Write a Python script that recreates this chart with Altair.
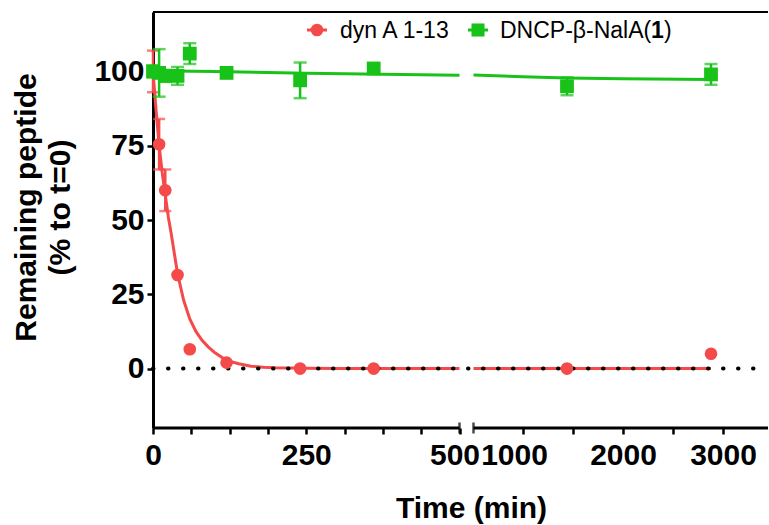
import altair as alt
import pandas as pd

# ---- data ----
red_t = [0, 10, 20, 40, 60, 120, 240, 360, 1440, 2880]
red_v = [100, 75.5, 60, 31.5, 6.5, 2, 0, 0, 0, 5]
red_err = [7, 8.5, 7, 0, 0, 0, 0, 0, 0, 0]

green_t = [0, 10, 20, 40, 60, 120, 240, 360, 1440, 2880]
green_v = [100, 99.5, 98.5, 98.5, 106, 99.5, 97, 101, 95, 99]
green_err = [2, 8, 2, 3, 3.5, 1, 6, 1, 3, 3.5]

# fitted curves; left / right of the axis break
red_fit_t = [0, 5, 10, 15, 20, 25, 30, 40, 50, 60, 70, 80, 90, 100, 120, 140, 160, 180, 200, 250, 300, 400, 500, 505, 2880]
red_fit_v = [100, 87, 75, 66, 58.5, 51, 45, 32, 23, 16.7, 12.5, 9.5, 7.3, 5.5, 2.7, 1.6, 0.8, 0.45, 0.25, 0.08, 0, 0, 0, 0, 0]
green_fit_t = [0, 100, 250, 500, 505, 1000, 1440, 2000, 2880]
green_fit_v = [100.2, 100, 99.4, 98.7, 98.8, 98.2, 97.8, 97.5, 97.3]

x_ticks = [0, 62.5, 125, 187.5, 250, 312.5, 375, 437.5, 500, 1000, 1500, 2000, 2500, 3000]
x_labels = [0, 250, 500, 1000, 2000, 3000]
y_ticks = [0, 25, 50, 75, 100]

BREAK_LO, BREAK_HI, X_MAX = 500, 505, 3450
Y_MIN, Y_MAX = -20, 120

RED = "#F44A4A"
GREEN = "#19C219"
FONT = "Liberation Sans"

W, H = 615, 416

# ---- frames ----
def seg(t):
    return "L" if t <= BREAK_LO else "R"

red_pts = pd.DataFrame({"t": red_t, "v": red_v, "e": red_err})
red_pts["lo"] = red_pts.v - red_pts.e
red_pts["hi"] = red_pts.v + red_pts.e
red_eb = red_pts[red_pts.e > 0]
green_pts = pd.DataFrame({"t": green_t, "v": green_v, "e": green_err})
green_pts["lo"] = green_pts.v - green_pts.e
green_pts["hi"] = green_pts.v + green_pts.e
green_eb = green_pts[green_pts.e > 0]

def caps(df):
    return pd.DataFrame({"t": list(df.t) * 2, "v": list(df.lo) + list(df.hi)})

red_fit = pd.DataFrame({"t": red_fit_t, "v": red_fit_v, "s": [seg(t) for t in red_fit_t]})
green_fit = pd.DataFrame({"t": green_fit_t, "v": green_fit_v, "s": [seg(t) for t in green_fit_t]})

xscale = alt.Scale(domain=[0, BREAK_LO, BREAK_HI, X_MAX], range=[0, 306.5, 320.5, W], nice=False, zero=False)
yscale = alt.Scale(domain=[Y_MIN, Y_MAX], nice=False, zero=False)

label_list = "[" + ",".join(str(v) for v in x_labels) + "]"
xaxis = alt.Axis(
    values=x_ticks, format="d",
    labelExpr=f"indexof({label_list}, datum.value) >= 0 ? datum.label : ''",
    domain=False, grid=False, tickSize=6, tickWidth=2.5, tickColor="black",
    labelFont=FONT, labelFontSize=30, labelFontWeight="bold", labelColor="black",
    labelPadding=6, labelOverlap=False, labelFlush=False,
    labelOffset={"condition": [{"test": "datum.value == 1000", "value": -9},
                               {"test": "datum.value == 500", "value": -5}], "value": 0},
    title="Time (min)", titleFont=FONT, titleFontSize=30, titleFontWeight="bold", titleColor="black",
    titleX=318, titleY=89, titleBaseline="alphabetic", titleAlign="center",
)
yaxis = alt.Axis(
    values=y_ticks, grid=False, domain=True, domainWidth=3, domainColor="black",
    tickSize=6, tickWidth=2.5, tickColor="black",
    labelFont=FONT, labelFontSize=30, labelFontWeight="bold", labelColor="black", labelPadding=3,
    title=["Remaining peptide", "(% to t=0)"], titleFont=FONT, titleFontSize=30, titleFontWeight="bold",
    titleColor="black", titleX=-118, titleY=195, titleAlign="center", titleBaseline="alphabetic",
    titleLineHeight=34, titleAngle=270,
)

def X(f="t"):
    return alt.X(f"{f}:Q", scale=xscale, axis=xaxis)

def Y(f="v"):
    return alt.Y(f"{f}:Q", scale=yscale, axis=yaxis)

top = alt.Chart(pd.DataFrame({"t": [0], "t2": [X_MAX], "v": [Y_MAX]})).mark_rule(
    color="black", strokeWidth=2).encode(x=X(), x2="t2:Q", y=Y())
xline = alt.Chart(pd.DataFrame({"t": [0, BREAK_HI], "t2": [BREAK_LO, X_MAX], "v": [Y_MIN, Y_MIN]})).mark_rule(
    color="black", strokeWidth=3).encode(x=X(), x2="t2:Q", y=Y())
breakcaps = alt.Chart(pd.DataFrame({"t": [BREAK_LO, BREAK_HI], "v": [Y_MIN, Y_MIN]})).mark_tick(
    orient="vertical", size=11, thickness=2.5, color="black").encode(x=X(), y=Y())

green_line = alt.Chart(green_fit).mark_line(color=GREEN, strokeWidth=3).encode(x=X(), y=Y(), detail="s:N")
red_line = alt.Chart(red_fit).mark_line(color=RED, strokeWidth=3).encode(x=X(), y=Y(), detail="s:N")
zero = alt.Chart(pd.DataFrame({"t": [0], "t2": [X_MAX], "v": [0]})).mark_rule(
    color="black", strokeWidth=4, strokeDash=[0.5, 14.5], strokeCap="round").encode(x=X(), x2="t2:Q", y=Y())

green_err_l = alt.Chart(green_eb).mark_rule(color=GREEN, strokeWidth=2.5).encode(x=X(), y=Y("lo"), y2="hi:Q")
green_caps = alt.Chart(caps(green_eb)).mark_tick(orient="horizontal", size=13, thickness=2.5, color=GREEN).encode(x=X(), y=Y())
green_pt = alt.Chart(green_pts).mark_point(shape="square", filled=True, size=190, color=GREEN, opacity=1).encode(x=X(), y=Y())
red_err_l = alt.Chart(red_eb).mark_rule(color=RED, strokeWidth=2.5).encode(x=X(), y=Y("lo"), y2="hi:Q")
red_caps = alt.Chart(caps(red_eb)).mark_tick(orient="horizontal", size=12, thickness=2.5, color=RED).encode(x=X(), y=Y())
red_pt = alt.Chart(red_pts).mark_point(shape="circle", filled=True, size=160, color=RED, opacity=1).encode(x=X(), y=Y())

# ---- legend ----
one = pd.DataFrame({"a": [0]})
LY = 18
LFS = 23
leg = [
    alt.Chart(one).mark_rule(color=RED, strokeWidth=3).encode(x=alt.value(154), x2=alt.value(174), y=alt.value(LY)),
    alt.Chart(one).mark_point(shape="circle", filled=True, size=160, color=RED, opacity=1).encode(x=alt.value(164), y=alt.value(LY)),
    alt.Chart(one).mark_text(align="left", baseline="middle", font=FONT, fontSize=LFS, color="black", text="dyn A 1-13").encode(x=alt.value(187), y=alt.value(LY + 1)),
    alt.Chart(one).mark_rule(color=GREEN, strokeWidth=3).encode(x=alt.value(315), x2=alt.value(335), y=alt.value(LY)),
    alt.Chart(one).mark_point(shape="square", filled=True, size=170, color=GREEN, opacity=1).encode(x=alt.value(325), y=alt.value(LY)),
    alt.Chart(one).mark_text(align="left", baseline="middle", font=FONT, fontSize=LFS, color="black", text="DNCP-β-NalA(").encode(x=alt.value(347), y=alt.value(LY + 1)),
    alt.Chart(one).mark_text(align="left", baseline="middle", font=FONT, fontSize=LFS, fontWeight="bold", color="black", text="1").encode(x=alt.value(498), y=alt.value(LY + 1)),
    alt.Chart(one).mark_text(align="left", baseline="middle", font=FONT, fontSize=LFS, color="black", text=")").encode(x=alt.value(511), y=alt.value(LY + 1)),
]

chart = alt.layer(
    top, xline, breakcaps, red_line, green_line, zero,
    red_err_l, red_caps, red_pt, green_err_l, green_caps, green_pt, *leg
).properties(
    width=W, height=H,
    autosize=alt.AutoSizeParams(type="none"),
    padding={"left": 153, "top": 12, "right": 1, "bottom": 97},
    background="white",
).configure_view(stroke=None)

chart.save("out.html", embed_options={"renderer": "svg", "actions": False})
